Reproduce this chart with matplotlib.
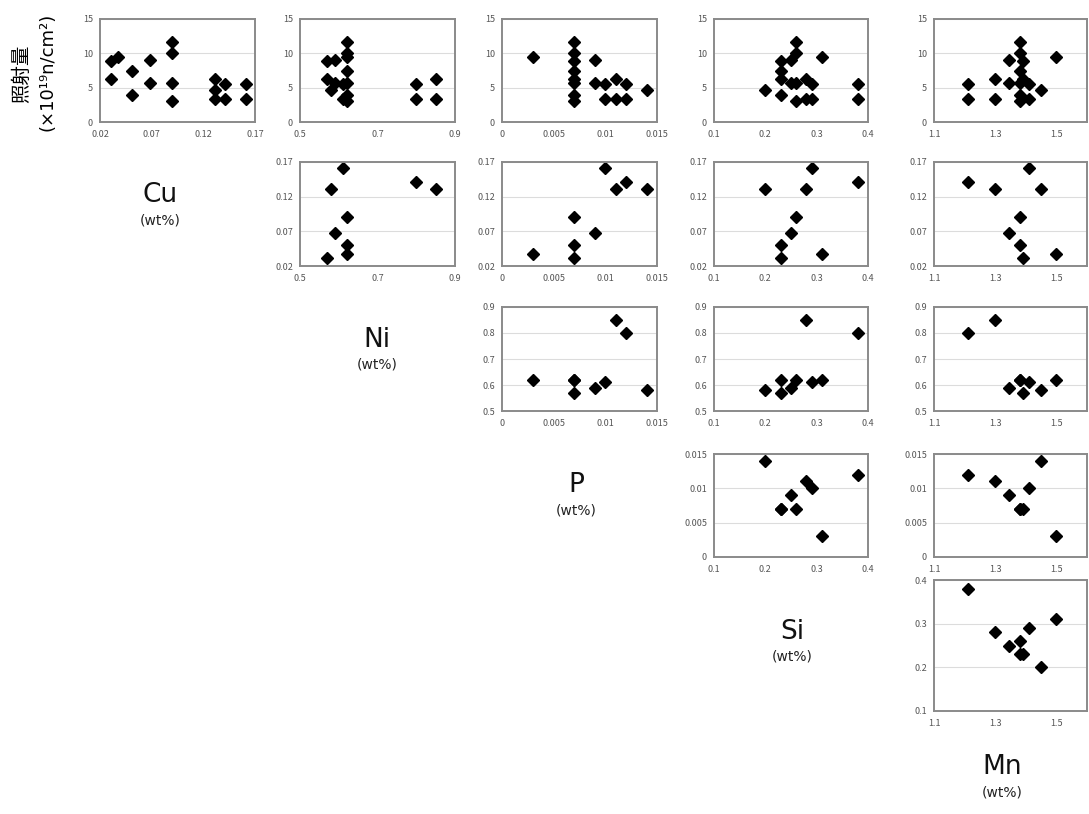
import matplotlib
matplotlib.use("Agg")
import matplotlib.pyplot as plt

plt.rcParams['font.family'] = ['Noto Sans CJK JP', 'DejaVu Sans']

# Material compositions (wt%), 9 materials
materials = ["A", "B", "C", "D", "E", "F", "G", "H", "I"]
cu = [0.161, 0.141, 0.131, 0.131, 0.090, 0.068, 0.051, 0.037, 0.031]
ni = [0.61, 0.80, 0.85, 0.58, 0.62, 0.59, 0.62, 0.62, 0.57]
p = [0.010, 0.012, 0.011, 0.014, 0.007, 0.009, 0.007, 0.003, 0.007]
si = [0.29, 0.38, 0.28, 0.20, 0.26, 0.25, 0.23, 0.31, 0.23]
mn = [1.41, 1.21, 1.30, 1.45, 1.38, 1.345, 1.38, 1.50, 1.39]

# Irradiation fluences (x10^19 n/cm^2) for each material
fluence = [
    [5.5, 3.3],
    [5.5, 3.3],
    [6.3, 3.3],
    [4.6],
    [11.7, 10.0, 5.75, 3.0],
    [9.1, 5.7],
    [7.45, 3.95],
    [9.4],
    [8.9, 6.2],
]

# Axis settings
fl_ticks = [0, 5, 10, 15]
fl_labels = ["0", "5", "10", "15"]
cu_ticks = [0.02, 0.07, 0.12, 0.17]
cu_labels = ["0.02", "0.07", "0.12", "0.17"]
ni_xticks = [0.5, 0.7, 0.9]
ni_xlabels = ["0.5", "0.7", "0.9"]
ni_yticks = [0.5, 0.6, 0.7, 0.8, 0.9]
ni_ylabels = ["0.5", "0.6", "0.7", "0.8", "0.9"]
p_ticks = [0, 0.005, 0.01, 0.015]
p_labels = ["0", "0.005", "0.01", "0.015"]
si_ticks = [0.1, 0.2, 0.3, 0.4]
si_labels = ["0.1", "0.2", "0.3", "0.4"]
mn_ticks = [1.1, 1.3, 1.5]
mn_labels = ["1.1", "1.3", "1.5"]

names = ["Cu", "Ni", "P", "Si", "Mn"]
comp = {"Cu": cu, "Ni": ni, "P": p, "Si": si, "Mn": mn}
xaxis = {
    "Cu": ((0.02, 0.17), cu_ticks, cu_labels),
    "Ni": ((0.5, 0.9), ni_xticks, ni_xlabels),
    "P": ((0, 0.015), p_ticks, p_labels),
    "Si": ((0.1, 0.4), si_ticks, si_labels),
    "Mn": ((1.1, 1.6), mn_ticks, mn_labels),
}
yaxis = {
    "Cu": ((0.02, 0.17), cu_ticks, cu_labels),
    "Ni": ((0.5, 0.9), ni_yticks, ni_ylabels),
    "P": ((0, 0.015), p_ticks, p_labels),
    "Si": ((0.1, 0.4), si_ticks, si_labels),
}

W, H = 1089, 814
fig = plt.figure(figsize=(W / 100, H / 100), dpi=100)

cols = [(100, 255), (300, 455), (502, 657), (714, 868), (934, 1087)]
rows = [(19, 122), (162, 266), (307, 411), (454, 557), (580, 711)]

def make_ax(r, c):
    x0, x1 = cols[c]
    y0, y1 = rows[r]
    return fig.add_axes([x0 / W, 1 - y1 / H, (x1 - x0) / W, (y1 - y0) / H])

def style(ax, xname, yinfo):
    xl, xt, xlab = xaxis[xname]
    yl, yt, ylab = yinfo
    ax.set_xlim(*xl)
    ax.set_ylim(*yl)
    ax.set_xticks(xt)
    ax.set_xticklabels(xlab)
    ax.set_yticks(yt)
    ax.set_yticklabels(ylab)
    ax.tick_params(length=0, labelsize=6.5, colors="#555555", pad=6)
    ax.tick_params(axis="y", pad=5)
    for s in ax.spines.values():
        s.set_color("#8a8a8a")
        s.set_linewidth(1.4)
    ax.yaxis.grid(True, color="#dcdcdc", linewidth=0.8)
    ax.set_axisbelow(True)

mk = dict(marker="D", color="black", markersize=5.8, linestyle="none")

# Row 1: fluence vs each element
for c, nm in enumerate(names):
    ax = make_ax(0, c)
    xs, ys = [], []
    for i in range(len(materials)):
        for f in fluence[i]:
            xs.append(comp[nm][i])
            ys.append(f)
    ax.plot(xs, ys, **mk)
    style(ax, nm, ((0, 15), fl_ticks, fl_labels))

# Lower rows: element pairs
for r in range(1, 5):
    yname = names[r - 1]
    for c in range(r, 5):
        xname = names[c]
        ax = make_ax(r, c)
        ax.plot(comp[xname], comp[yname], **mk)
        style(ax, xname, yaxis[yname])

# Diagonal labels
diag = [("Cu", 160, 195), ("Ni", 377, 340), ("P", 576, 485), ("Si", 792, 632), ("Mn", 1002, 767)]
for nm, x, y in diag:
    fig.text(x / W, 1 - y / H, nm, fontsize=19, ha="center", va="center",
             family=["DejaVu Sans"], color="#111111")
    fig.text(x / W, 1 - (y + 25) / H, "(wt%)", fontsize=10, ha="center", va="center",
             family=["DejaVu Sans"], color="#222222")

# Y label of the first row
fig.text(22 / W, 1 - 74 / H, "照射量", rotation=90, fontsize=14, ha="center", va="center")
fig.text(48 / W, 1 - 72 / H, "(×10¹⁹n/cm²)", rotation=90, fontsize=13,
         ha="center", va="center", family=["DejaVu Sans"])

fig.savefig("out.png", dpi=100)
